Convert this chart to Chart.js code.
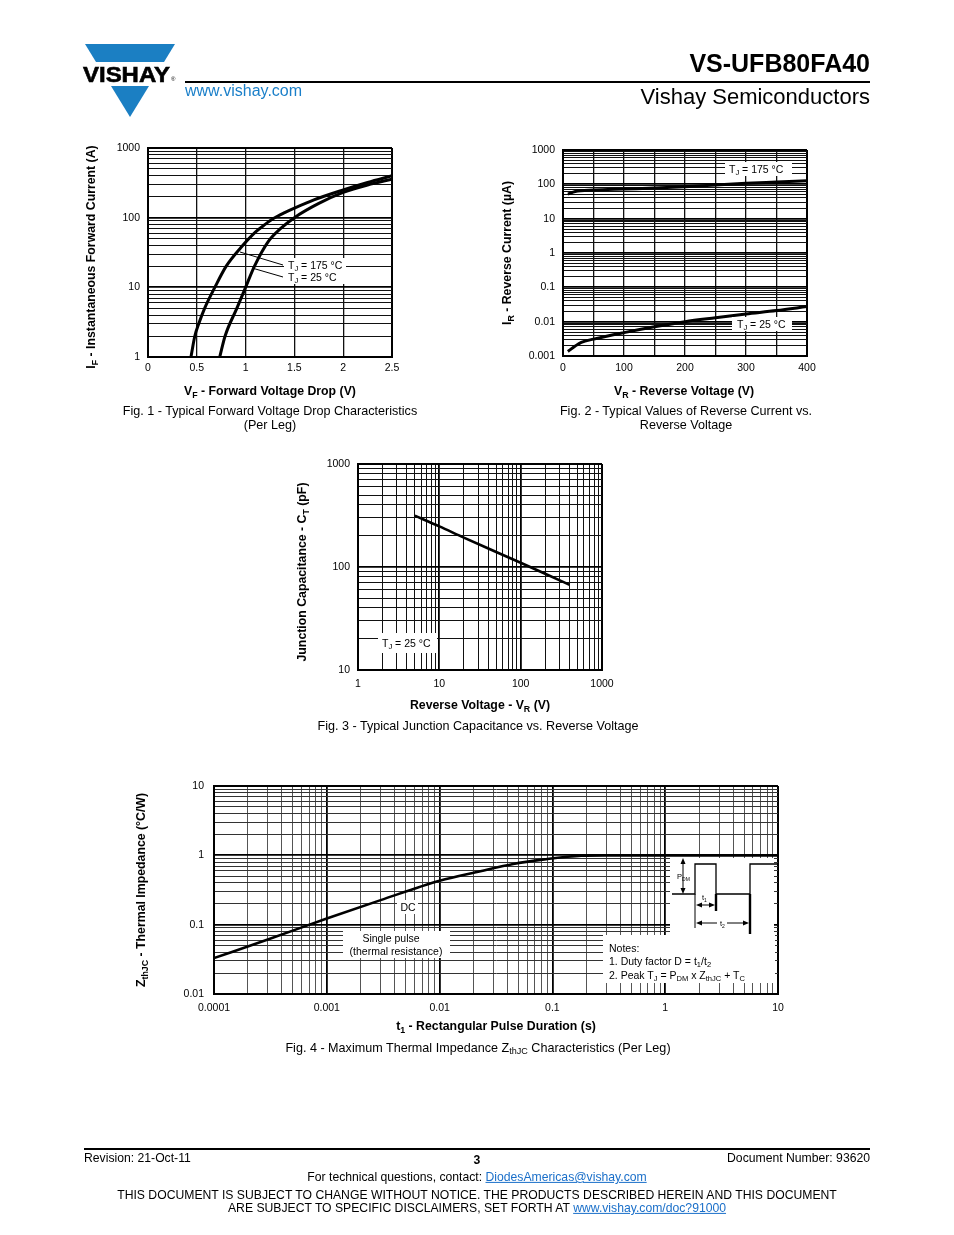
<!DOCTYPE html>
<html>
<head>
<meta charset="utf-8">
<script src="https://cdn.jsdelivr.net/npm/chart.js@4.4.1/dist/chart.umd.min.js"></script>
<style>
  body { margin: 0; background: #fff; }
  #page { position: relative; width: 954px; height: 1235px; overflow: hidden; font-family: "Liberation Sans", Arial, Helvetica, sans-serif; color: #000; }
  .t { position: absolute; white-space: nowrap; transform: translate(-50%, -50%); line-height: 1; }
  .l { position: absolute; white-space: nowrap; transform: translateY(-50%); line-height: 1; }
  .rt { position: absolute; white-space: nowrap; transform: translate(-100%, -50%); line-height: 1; }
  .rot { transform: translate(-50%, -50%) rotate(-90deg); }
  .b { font-weight: bold; }
  .ax { font-size: 12.3px; font-weight: bold; }
  .cap { font-size: 12.6px; }
  .ann { font-size: 10.5px; }
  .ft { font-size: 12.2px; }
  sub { font-size: 72%; vertical-align: -0.3em; line-height: 0; }
  canvas { position: absolute; }
  svg { position: absolute; left: 0; top: 0; }
  a { color: #1a6fc9; }
</style>
</head>
<body>
<div id="page">
  <canvas id="fig1" width="316" height="250" style="left:100px;top:128px"></canvas>
  <canvas id="fig2" width="318" height="248" style="left:513px;top:130px"></canvas>
  <canvas id="fig3" width="316" height="248" style="left:310px;top:444px"></canvas>
  <canvas id="fig4" width="642" height="252" style="left:160px;top:766px"></canvas>

  <svg width="954" height="1235">
    <!-- logo -->
    <polygon points="85,44 175,44 164,62 96,62" fill="#1b7fc3"/>
    <polygon points="111,86 149,86 130,117" fill="#1b7fc3"/>
    <text x="83" y="82" font-family="Liberation Sans, Arial" font-weight="bold" font-size="22" textLength="87" lengthAdjust="spacingAndGlyphs" stroke="#000" stroke-width="0.6">VISHAY</text>
    <text x="171" y="81" font-family="Liberation Sans, Arial" font-size="6">®</text>
    <rect x="185" y="81" width="685" height="2" fill="#000"/>
    <rect x="84" y="1148" width="786" height="2" fill="#000"/>

    <!-- fig 1 annotations -->
    <rect x="284" y="258" width="62" height="26" fill="#fff"/>
    <line x1="240" y1="252" x2="283" y2="265" stroke="#000" stroke-width="1"/>
    <line x1="252" y1="268" x2="283" y2="277" stroke="#000" stroke-width="1"/>
    <!-- fig 2 annotations -->
    <rect x="725" y="162" width="67" height="14" fill="#fff"/>
    <rect x="732" y="317" width="60" height="14" fill="#fff"/>
    <!-- fig 3 annotation -->
    <rect x="378" y="633" width="59" height="20" fill="#fff"/>
    <!-- fig 4 annotations -->
    <rect x="397" y="900" width="21" height="14" fill="#fff"/>
    <rect x="343" y="931" width="107" height="27" fill="#fff"/>
    <rect x="670" y="858" width="104" height="77" fill="#fff"/>
    <rect x="603" y="935" width="172" height="48" fill="#fff"/>
    <polyline points="672,894 695,894 695,864 716,864 716,894 750,894 750,864 777,864" fill="none" stroke="#000" stroke-width="1.3"/>
    <line x1="716" y1="894" x2="716" y2="911" stroke="#000" stroke-width="2.4"/>
    <line x1="750" y1="894" x2="750" y2="934" stroke="#000" stroke-width="2.4"/>
    <line x1="695" y1="894" x2="695" y2="928" stroke="#000" stroke-width="1"/>
    <line x1="683" y1="862" x2="683" y2="890" stroke="#000" stroke-width="1"/>
    <polygon points="683,858 680.5,864 685.5,864" fill="#000"/>
    <polygon points="683,894 680.5,888 685.5,888" fill="#000"/>
    <line x1="699" y1="905" x2="712" y2="905" stroke="#000" stroke-width="1"/>
    <polygon points="696,905 702,902.5 702,907.5" fill="#000"/>
    <polygon points="715,905 709,902.5 709,907.5" fill="#000"/>
    <line x1="699" y1="923" x2="717" y2="923" stroke="#000" stroke-width="1"/>
    <line x1="727" y1="923" x2="746" y2="923" stroke="#000" stroke-width="1"/>
    <polygon points="696,923 702,920.5 702,925.5" fill="#000"/>
    <polygon points="749,923 743,920.5 743,925.5" fill="#000"/>
    <g font-family="Liberation Sans, Arial" font-size="7.5">
      <text x="677" y="879">P<tspan font-size="5" dy="1.5">DM</tspan></text>
      <text x="702" y="900">t<tspan font-size="5" dy="1.5">1</tspan></text>
      <text x="720" y="926">t<tspan font-size="5" dy="1.5">2</tspan></text>
    </g>
  </svg>

  <!-- header -->
  <div class="l" style="left:185px;top:91px;font-size:16px;color:#1a7fc9">www.vishay.com</div>
  <div class="rt b" style="left:870px;top:63px;font-size:25px">VS-UFB80FA40</div>
  <div class="rt" style="left:870px;top:97px;font-size:22px">Vishay Semiconductors</div>

  <!-- fig 1 text -->
  <div class="l ann" style="left:288px;top:265px">T<sub>J</sub> = 175 °C</div>
  <div class="l ann" style="left:288px;top:277px">T<sub>J</sub> = 25 °C</div>
  <div class="t ax" style="left:270px;top:391px">V<sub>F</sub> - Forward Voltage Drop (V)</div>
  <div class="t ax rot" style="left:91px;top:257px">I<sub>F</sub> - Instantaneous Forward Current (A)</div>
  <div class="t cap" style="left:270px;top:411px">Fig. 1 - Typical Forward Voltage Drop Characteristics</div>
  <div class="t cap" style="left:270px;top:425px">(Per Leg)</div>

  <!-- fig 2 text -->
  <div class="l ann" style="left:729px;top:169px">T<sub>J</sub> = 175 °C</div>
  <div class="l ann" style="left:737px;top:324px">T<sub>J</sub> = 25 °C</div>
  <div class="t ax" style="left:684px;top:391px">V<sub>R</sub> - Reverse Voltage (V)</div>
  <div class="t ax rot" style="left:507px;top:253px">I<sub>R</sub> - Reverse Current (µA)</div>
  <div class="t cap" style="left:686px;top:411px">Fig. 2 - Typical Values of Reverse Current vs.</div>
  <div class="t cap" style="left:686px;top:425px">Reverse Voltage</div>

  <!-- fig 3 text -->
  <div class="l ann" style="left:382px;top:643px">T<sub>J</sub> = 25 °C</div>
  <div class="t ax" style="left:480px;top:705px">Reverse Voltage - V<sub>R</sub> (V)</div>
  <div class="t ax rot" style="left:302px;top:572px">Junction Capacitance - C<sub>T</sub> (pF)</div>
  <div class="t cap" style="left:478px;top:726px">Fig. 3 - Typical Junction Capacitance vs. Reverse Voltage</div>

  <!-- fig 4 text -->
  <div class="t ann" style="left:408px;top:907px">DC</div>
  <div class="t ann" style="left:391px;top:938px">Single pulse</div>
  <div class="t ann" style="left:396px;top:951px">(thermal resistance)</div>
  <div class="l ann" style="left:609px;top:948px">Notes:</div>
  <div class="l ann" style="left:609px;top:961px">1. Duty factor D = t<sub>1</sub>/t<sub>2</sub></div>
  <div class="l ann" style="left:609px;top:975px">2. Peak T<sub>J</sub> = P<sub>DM</sub> x Z<sub>thJC</sub> + T<sub>C</sub></div>
  <div class="t ax" style="left:496px;top:1026px">t<sub>1</sub> - Rectangular Pulse Duration (s)</div>
  <div class="t ax rot" style="left:141px;top:890px">Z<sub>thJC</sub> - Thermal Impedance (°C/W)</div>
  <div class="t cap" style="left:478px;top:1048px">Fig. 4 - Maximum Thermal Impedance Z<sub>thJC</sub> Characteristics (Per Leg)</div>

  <!-- footer -->
  <div class="l ft" style="left:84px;top:1158px">Revision: 21-Oct-11</div>
  <div class="t b ft" style="left:477px;top:1160px">3</div>
  <div class="rt ft" style="left:870px;top:1158px">Document Number: 93620</div>
  <div class="t ft" style="left:477px;top:1177px">For technical questions, contact: <a href="#">DiodesAmericas@vishay.com</a></div>
  <div class="t ft" style="left:477px;top:1195px">THIS DOCUMENT IS SUBJECT TO CHANGE WITHOUT NOTICE. THE PRODUCTS DESCRIBED HEREIN AND THIS DOCUMENT</div>
  <div class="t ft" style="left:477px;top:1208px">ARE SUBJECT TO SPECIFIC DISCLAIMERS, SET FORTH AT <a href="#">www.vishay.com/doc?91000</a></div>
</div>

<script>
// Fig. 1 - forward voltage drop (V) vs forward current (A)
const vfHot = [0.44, 0.48, 0.52, 0.58, 0.685, 0.8, 0.95, 1.1, 1.2, 1.285, 1.4, 1.5, 1.7, 2.0, 2.25, 2.5];
const ifHot = [1, 2, 3, 5, 10, 20, 37, 62, 80, 97, 118, 137, 180, 250, 320, 400];
const vfCold = [0.735, 0.79, 0.91, 1.0, 1.09, 1.23, 1.36, 1.5, 1.75, 2.0, 2.25, 2.5];
const ifCold = [1, 2, 5, 10, 20, 45, 70, 100, 160, 230, 295, 357];

// Fig. 2 - reverse voltage (V) vs reverse current (uA)
const vrHot = [8, 20, 50, 100, 150, 200, 250, 300, 350, 400];
const irHot = [52, 62, 68, 73, 78, 85, 96, 107, 117, 128];
const vrCold = [8, 20, 30, 50, 100, 150, 200, 250, 300, 350, 400];
const irCold = [0.00135, 0.00195, 0.0025, 0.0031, 0.0048, 0.0071, 0.010, 0.013, 0.0167, 0.021, 0.0275];

// Fig. 3 - reverse voltage (V) vs junction capacitance (pF)
const vrCap = [5, 10, 20, 50, 100, 200, 400];
const ctCap = [315, 248, 193, 140, 110, 86, 67];

// Fig. 4 - pulse duration (s) vs thermal impedance (degC/W)
const tPulse = [0.0001, 0.0003, 0.001, 0.003, 0.01, 0.023, 0.045, 0.09, 0.135, 0.18, 0.3, 1, 10];
const zthDc = [0.033, 0.061, 0.123, 0.226, 0.43, 0.59, 0.75, 0.885, 0.955, 0.99, 1.0, 1.0, 1.0];

// tick labels
const fig1XLabels = [0, 0.5, 1, 1.5, 2, 2.5];
const fig1YLabels = [1, 10, 100, 1000];
const fig2XLabels = [0, 100, 200, 300, 400];
const fig2YLabels = [0.001, 0.01, 0.1, 1, 10, 100, 1000];
const fig3XLabels = [1, 10, 100, 1000];
const fig3YLabels = [10, 100, 1000];
const fig4XLabels = [0.0001, 0.001, 0.01, 0.1, 1, 10];
const fig4YLabels = [0.01, 0.1, 1, 10];

Chart.defaults.font.family = '"Liberation Sans", Arial, sans-serif';
Chart.defaults.color = '#000';

// grid positions: every step for linear axes, 1..9 per decade for log axes
function linearGrid(min, max, step) {
  const out = [];
  for (let v = min; v <= max + 1e-9; v += step) out.push(Math.round(v * 1000) / 1000);
  return out;
}
function logGrid(min, max) {
  const out = [];
  for (let e = Math.round(Math.log10(min)); e < Math.round(Math.log10(max)); e++) {
    for (let m = 1; m < 10; m++) out.push(Number((m * Math.pow(10, e)).toPrecision(6)));
  }
  out.push(max);
  return out;
}
const same = (a, b) => Math.abs(a - b) <= 1e-9 * Math.max(Math.abs(a), Math.abs(b));
const isDecade = v => v > 0 && Math.abs(Math.log10(v) - Math.round(Math.log10(v))) < 1e-6;

function axis(a, dir) {
  const grid = a.type === 'logarithmic' ? logGrid(a.min, a.max) : linearGrid(a.min, a.max, a.step);
  return {
    type: a.type,
    min: a.min,
    max: a.max,
    afterBuildTicks: s => { s.ticks = grid.map(v => ({ value: v })); },
    afterFit: s => { if (dir === 'x') s.height = a.size; else s.width = a.size; },
    ticks: {
      autoSkip: false, maxRotation: 0, minRotation: 0,
      padding: a.pad,
      font: { size: 10.5 },
      color: '#000',
      callback: v => a.labels.some(l => same(l, v)) ? String(v) : ''
    },
    grid: {
      drawTicks: false,
      color: ctx => {
        const v = ctx.tick ? ctx.tick.value : 0;
        if (same(v, a.min) || same(v, a.max)) return '#000';
        if (a.type === 'logarithmic' && isDecade(v)) return '#000';
        return a.minorColor || '#111';
      },
      lineWidth: ctx => {
        const v = ctx.tick ? ctx.tick.value : 0;
        if (same(v, a.min) || same(v, a.max)) return 2;
        if (a.type === 'logarithmic') return isDecade(v) ? 1.8 : 1;
        return a.lineWidth || 1.3;
      }
    },
    border: { display: true, color: '#000', width: 2 }
  };
}

function makeChart(id, cfg) {
  return new Chart(document.getElementById(id), {
    type: 'line',
    data: {
      datasets: cfg.series.map(s => ({
        data: s.xs.map((x, i) => ({ x: x, y: s.ys[i] })),
        borderColor: '#000',
        borderWidth: s.width || 2.8,
        pointRadius: 0,
        fill: false,
        cubicInterpolationMode: 'monotone'
      }))
    },
    options: {
      responsive: false,
      animation: false,
      events: [],
      layout: { padding: { top: 20, right: 24, left: 0, bottom: 0 } },
      plugins: { legend: { display: false }, tooltip: { enabled: false } },
      scales: { x: axis(cfg.x, 'x'), y: axis(cfg.y, 'y') }
    }
  });
}

makeChart('fig1', {
  x: { type: 'linear', min: 0, max: 2.5, step: 0.5, labels: fig1XLabels, size: 21, pad: 5 },
  y: { type: 'logarithmic', min: 1, max: 1000, labels: fig1YLabels, size: 48, pad: 8 },
  series: [{ xs: vfHot, ys: ifHot, width: 3 }, { xs: vfCold, ys: ifCold, width: 3 }]
});

makeChart('fig2', {
  x: { type: 'linear', min: 0, max: 400, step: 50, labels: fig2XLabels, size: 22, pad: 6 },
  y: { type: 'logarithmic', min: 0.001, max: 1000, labels: fig2YLabels, size: 50, pad: 8 },
  series: [{ xs: vrHot, ys: irHot, width: 3 }, { xs: vrCold, ys: irCold, width: 3 }]
});

makeChart('fig3', {
  x: { type: 'logarithmic', min: 1, max: 1000, labels: fig3XLabels, size: 22, pad: 8 },
  y: { type: 'logarithmic', min: 10, max: 1000, labels: fig3YLabels, size: 48, pad: 8 },
  series: [{ xs: vrCap, ys: ctCap, width: 2.6 }]
});

makeChart('fig4', {
  x: { type: 'logarithmic', min: 0.0001, max: 10, labels: fig4XLabels, size: 24, pad: 8, minorColor: '#555' },
  y: { type: 'logarithmic', min: 0.01, max: 10, labels: fig4YLabels, size: 54, pad: 10, minorColor: '#333' },
  series: [{ xs: tPulse, ys: zthDc, width: 2.6 }]
});
</script>
</body>
</html>
